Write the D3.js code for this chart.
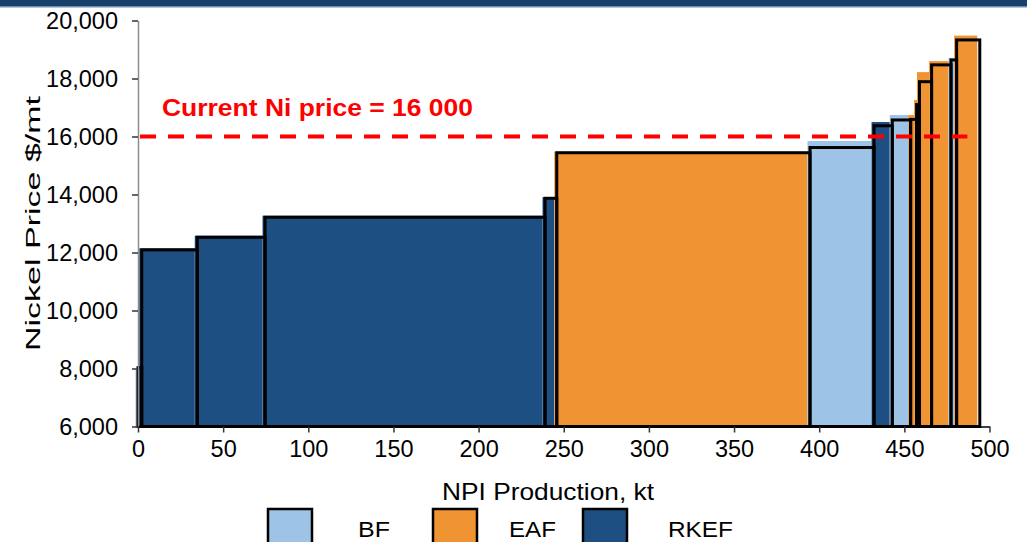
<!DOCTYPE html>
<html>
<head>
<meta charset="utf-8">
<script src="https://cdn.jsdelivr.net/npm/d3@7"></script>
<style>
  html, body { margin: 0; padding: 0; background: #ffffff; }
  svg { display: block; }
  text { font-family: "Liberation Sans", Arial, sans-serif; fill: #000; }
</style>
</head>
<body>
<svg id="chart" width="1027" height="542"></svg>
<script>
// NPI cost curve: bar width = production (kt), height = cash cost ($/mt)
const technology = ["BF", "RKEF", "RKEF", "RKEF", "RKEF", "EAF", "BF", "RKEF", "BF", "EAF", "EAF", "EAF", "EAF", "BF", "EAF"];
const productionKt = [2.2, 32.6, 39.8, 164.4, 6.9, 148.7, 37.6, 10.7, 10.8, 3.5, 1.7, 7.1, 11.4, 3.3, 13.6];
const costFill = [7980, 12145, 12580, 13270, 13910, 15475, 15845, 16500, 16740, 16740, 17260, 18220, 18600, 18710, 19480];
const costOutline = [8030, 12090, 12525, 13215, 13870, 15440, 15620, 16370, 16570, 16590, 17100, 17890, 18470, 18640, 19330];

const legendKeys = ["BF", "EAF", "RKEF"];
const xTicks = [0, 50, 100, 150, 200, 250, 300, 350, 400, 450, 500];
const yTicks = [6000, 8000, 10000, 12000, 14000, 16000, 18000, 20000];
const niPrice = 16000;

const colors = { BF: "#9dc3e6", EAF: "#f09433", RKEF: "#1d4f82" };
const FONT = "Liberation Sans, Arial, sans-serif";

const svg = d3.select("#chart");

// header band
svg.append("rect").attr("x", 0).attr("y", 0).attr("width", 1027).attr("height", 6).attr("fill", "#17416b");
svg.append("rect").attr("x", 0).attr("y", 6).attr("width", 1027).attr("height", 1.5).attr("fill", "#6f8fb3");

const x = d3.scaleLinear().domain([0, 500]).range([138, 989.5]);
const y = d3.scaleLinear().domain([6000, 20000]).range([426.5, 20.5]);

// cumulative positions
const bars = [];
let acc = 0;
productionKt.forEach((w, i) => {
  bars.push({ x0: acc, x1: acc + w, tech: technology[i], fillVal: costFill[i], lineVal: costOutline[i] });
  acc += w;
});

// filled blocks
svg.append("g").attr("transform", "translate(-2.5,0)")
  .selectAll("rect").data(bars).join("rect")
  .attr("x", d => x(d.x0))
  .attr("width", d => x(d.x1) - x(d.x0))
  .attr("y", d => y(d.fillVal))
  .attr("height", d => y(6000) - y(d.fillVal))
  .attr("fill", d => colors[d.tech]);

// outlined blocks
svg.append("g")
  .selectAll("rect").data(bars).join("rect")
  .attr("x", d => x(d.x0))
  .attr("width", d => x(d.x1) - x(d.x0))
  .attr("y", d => y(d.lineVal))
  .attr("height", d => y(6000) - y(d.lineVal))
  .attr("fill", "none")
  .attr("stroke", "#000")
  .attr("stroke-width", 3);

// y axis
const yAxis = svg.append("g").attr("transform", `translate(${x(0)},0)`)
  .call(d3.axisLeft(y).tickValues(yTicks).tickSize(6).tickSizeOuter(0).tickPadding(14).tickFormat(d3.format(",")));
yAxis.select(".domain").attr("stroke", "#8c8c8c").attr("stroke-width", 1.5);
yAxis.selectAll(".tick line").attr("stroke", "#333").attr("stroke-width", 1.5);
yAxis.selectAll(".tick text").attr("font-size", 23.5).attr("font-family", FONT).attr("fill", "#000");

// x axis
const xAxis = svg.append("g").attr("transform", `translate(0,${y(6000)})`)
  .call(d3.axisBottom(x).tickValues(xTicks).tickSize(6).tickSizeOuter(0).tickPadding(8));
xAxis.select(".domain").attr("stroke", "#000").attr("stroke-width", 1.5);
xAxis.selectAll(".tick line").attr("stroke", "#333").attr("stroke-width", 1.5);
xAxis.selectAll(".tick text").attr("font-size", 23.5).attr("font-family", FONT).attr("fill", "#000");

// current price line
svg.append("line")
  .attr("x1", x(0) + 2).attr("x2", x(487))
  .attr("y1", y(niPrice)).attr("y2", y(niPrice))
  .attr("stroke", "#ff0000").attr("stroke-width", 4)
  .attr("stroke-dasharray", "16,12");
svg.append("text")
  .attr("x", 162).attr("y", 116)
  .attr("font-size", 24).attr("font-weight", "bold")
  .attr("textLength", 311).attr("lengthAdjust", "spacingAndGlyphs")
  .style("fill", "#ff0000")
  .text("Current Ni price = 16 000");

// axis titles
svg.append("text")
  .attr("transform", `translate(40,${(y(6000) + y(20000)) / 2}) rotate(-90)`)
  .attr("text-anchor", "middle").attr("font-size", 20.5)
  .attr("textLength", 255).attr("lengthAdjust", "spacingAndGlyphs")
  .text("Nickel Price $/mt");
svg.append("text")
  .attr("x", 548).attr("y", 500)
  .attr("text-anchor", "middle").attr("font-size", 24)
  .attr("textLength", 212).attr("lengthAdjust", "spacingAndGlyphs")
  .text("NPI Production, kt");

// legend
const legendPos = [{ sx: 268, tx: 358, w: 32 }, { sx: 433, tx: 509, w: 47 }, { sx: 583, tx: 668, w: 65 }];
const legend = svg.append("g");
legendKeys.forEach((k, i) => {
  legend.append("rect")
    .attr("x", legendPos[i].sx).attr("y", 509).attr("width", 44).attr("height", 40)
    .attr("fill", colors[k]).attr("stroke", "#000").attr("stroke-width", 2.5);
  legend.append("text")
    .attr("x", legendPos[i].tx).attr("y", 537)
    .attr("font-size", 22)
    .attr("textLength", legendPos[i].w).attr("lengthAdjust", "spacingAndGlyphs")
    .text(k);
});
</script>
</body>
</html>
